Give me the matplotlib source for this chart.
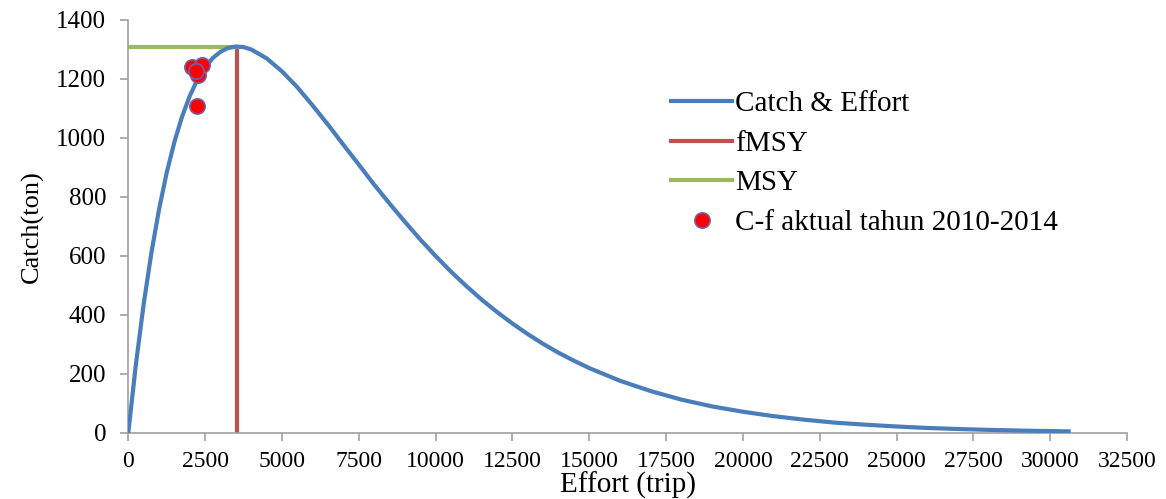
import matplotlib
matplotlib.use("Agg")
import matplotlib.pyplot as plt

# Catch & Effort curve
effort = [0, 250, 500, 750, 1000, 1250, 1500, 1750, 2000, 2250, 2500, 2750,
          3000, 3250, 3500, 3750, 4000, 4500, 5000, 5500, 6000, 6500, 7000,
          7500, 8000, 8500, 9000, 9500, 10000, 10500, 11000, 11500, 12000,
          12500, 13000, 13500, 14000, 14500, 15000, 16000, 17000, 18000,
          19000, 20000, 21000, 22000, 23000, 24000, 25000, 26000, 27000,
          28000, 29000, 30000, 30600]
catch = [0, 234, 436, 609, 757, 882, 986, 1072, 1142, 1198, 1240, 1271,
         1292, 1305, 1310, 1308, 1300, 1270, 1226, 1172, 1110, 1045, 977,
         910, 842, 778, 716, 656, 600, 547, 498, 452, 410,
         371, 335, 302, 272, 245, 220, 177, 142, 113,
         90, 72, 57, 45, 35, 28, 22, 17, 13.5,
         10.5, 8.2, 6.4, 5.5]

f_msy = 3530
msy = 1310

# actual catch-effort 2010-2014
act_effort = [2080, 2280, 2410, 2210, 2245]
act_catch = [1240, 1214, 1247, 1227, 1108]

plt.rcParams['font.family'] = ['Liberation Serif', 'DejaVu Serif']

fig = plt.figure(figsize=(11.66, 4.99), dpi=100)
ax = fig.add_axes([0.11, 0.1323, 0.8566, 0.8277])

ax.plot(effort, catch, color='#4a7ebb', lw=3, label='Catch & Effort', zorder=3)
ax.plot([f_msy, f_msy], [0, msy], color='#c0504d', lw=3, label='fMSY', zorder=2)
ax.plot([0, f_msy], [msy, msy], color='#9bbb59', lw=3, label='MSY', zorder=2)
ax.plot(act_effort, act_catch, 'o', ms=11, mfc='#ff0000', mec='#7060a8', mew=1.2,
        ls='none', label='C-f aktual tahun 2010-2014', zorder=4)

ax.set_xlim(0, 32500)
ax.set_ylim(0, 1400)
ax.set_xticks(range(0, 32501, 2500))
ax.set_yticks(range(0, 1401, 200))

for s in ['top', 'right']:
    ax.spines[s].set_visible(False)
for s in ['left', 'bottom']:
    ax.spines[s].set_color('#a0a0a0')
    ax.spines[s].set_linewidth(1.2)
ax.tick_params(axis='both', direction='out', length=6, color='#a0a0a0', width=1.2)
ax.tick_params(axis='x', pad=7, labelsize=17)
ax.tick_params(axis='y', pad=10, labelsize=18)

ax.set_xlabel('Effort (trip)', fontsize=21, labelpad=0)
ax.set_ylabel('Catch(ton)', fontsize=19, labelpad=9)

ax.legend(loc='upper left', bbox_to_anchor=(0.517, 0.892), frameon=False,
          fontsize=21, handlelength=2.1, handletextpad=0.1, labelspacing=0.45)

fig.savefig('out.png', dpi=100)
